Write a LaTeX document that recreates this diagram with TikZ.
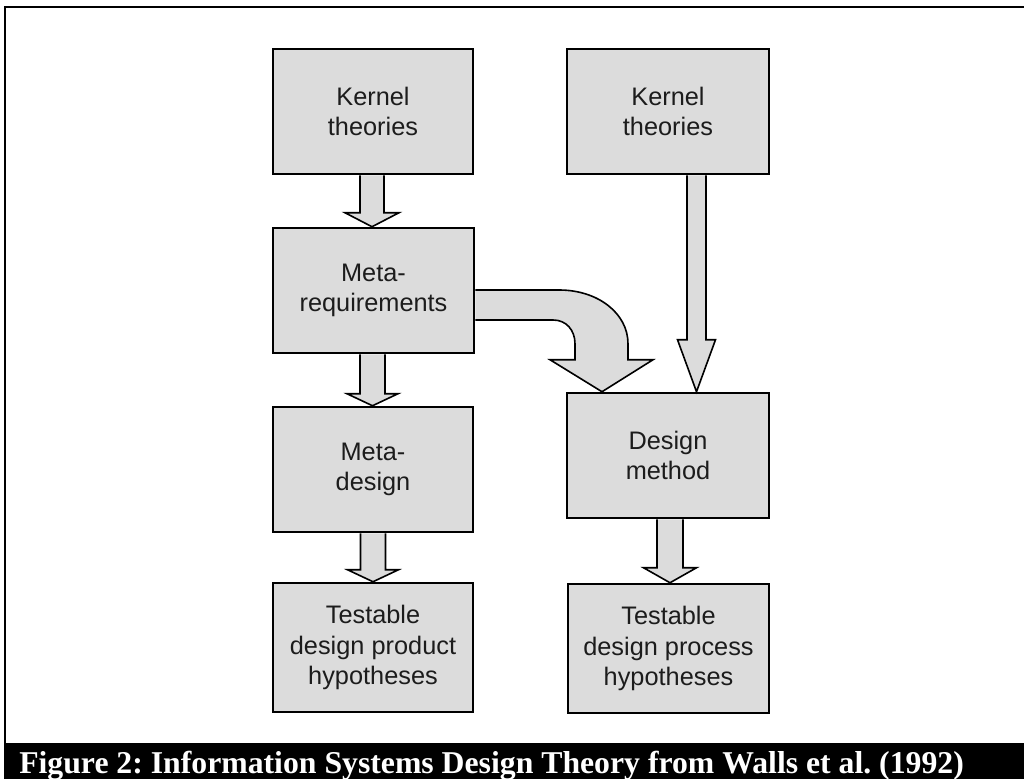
\documentclass[tikz,border=0pt]{standalone}
\usepackage{fontspec}
\setmainfont{Liberation Sans}
\newfontfamily\capfont{Liberation Serif}
\usetikzlibrary{calc}
\definecolor{boxgray}{RGB}{220,220,220}
\definecolor{inkgray}{RGB}{28,28,28}
\frenchspacing
\newcommand\vblock[6]{%
  \coordinate (vs) at ($(#1.south)+(#3,0)$);
  \coordinate (vt) at (vs |- #2.north);
  \draw[barrow] ($(vs)+(-#4,0)$) -- ($(vt)+(-#4,-#6)$) -- ($(vt)+(-#5,-#6)$) -- (vt)
     -- ($(vt)+(#5,-#6)$) -- ($(vt)+(#4,-#6)$) -- ($(vs)+(#4,0)$);
}
\begin{document}
\begin{tikzpicture}[x=0.75pt,y=-0.75pt,
  blk/.style={draw=black, fill=boxgray, line width=1.9pt, align=center, inner sep=0pt,
    font=\fontsize{19}{22.8}\selectfont, text=inkgray},
  barrow/.style={draw=black, fill=boxgray, line width=1.2pt, line join=miter}]
\useasboundingbox (0,0) rectangle (1024,779);
% frame and caption bar
\fill[black] (4,743) rectangle (1024,779);
\draw[line width=1.5pt] (5,743) -- (5,7) -- (1024,7);
\node[anchor=base west, text=white, inner sep=0pt, font=\capfont\bfseries\fontsize{23.8}{28}\selectfont]
  (cap) at (19,773) {Figure 2: Information Systems Design Theory from Walls et al. (1992)};
% boxes
\node[blk, minimum width=150pt, minimum height=93.75pt] (k1) at (373,111.5) {Kernel\\theories};
\node[blk, minimum width=150.75pt, minimum height=93.75pt] (mr) at (373.5,290.5) {Meta-\\requirements};
\node[blk, minimum width=150pt, minimum height=93.75pt] (md) at (373,469.5) {Meta-\\design};
\node[blk, minimum width=150pt, minimum height=96.75pt] (tp) at (373,647.5) {Testable\\design product\\hypotheses};
\node[blk, minimum width=151.5pt, minimum height=93.75pt] (k2) at (668,111.5) {Kernel\\theories};
\node[blk, minimum width=151.5pt, minimum height=93.75pt] (dm) at (668,455.5) {Design\\method};
\node[blk, minimum width=150.75pt, minimum height=96.75pt] (tq) at (668.5,648.5) {Testable\\design process\\hypotheses};
% straight block arrows
\vblock{k1}{mr}{-1}{12}{27}{14}
\vblock{mr}{md}{-1}{12.5}{25.5}{12}
\vblock{md}{tp}{0}{12.5}{25.5}{12}
\vblock{k2}{dm}{28.5}{9.5}{19}{52}
\vblock{dm}{tq}{2}{13}{26.5}{15}
% curved block arrow
\coordinate (tipc) at ($(dm.north)+(-66,0)$);
\draw[barrow] ($(mr.east)+(0,29.5)$) -- ($(mr.east)+(78,29.5)$)
  .. controls ($(mr.east)+(90.7,29.5)$) and ($(tipc)+(-27,-61.8)$) .. ($(tipc)+(-27,-48)$)
  -- ($(tipc)+(-27,-32)$) -- ($(tipc)+(-52,-32)$) -- (tipc) -- ($(tipc)+(51,-32)$)
  -- ($(tipc)+(26,-32)$) -- ($(tipc)+(26,-48)$)
  .. controls ($(tipc)+(26,-78.4)$) and ($(mr.east)+(122.6,-0.5)$) .. ($(mr.east)+(84,-0.5)$)
  -- ($(mr.east)+(0,-0.5)$);
\end{tikzpicture}
\end{document}
